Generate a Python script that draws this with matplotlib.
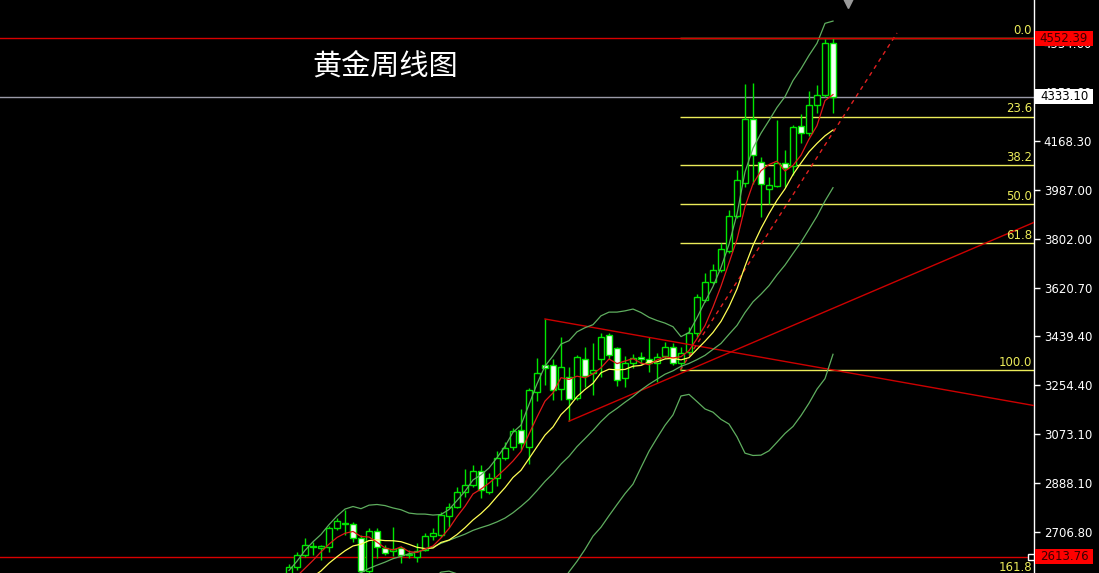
import numpy as np
import pandas as pd
import matplotlib
matplotlib.use("Agg")
import matplotlib.pyplot as plt
from matplotlib.patches import Rectangle
from matplotlib.transforms import blended_transform_factory

plt.rcParams['font.family'] = ['Noto Sans CJK SC', 'DejaVu Sans']

# Weekly closes before the first plotted bar (warm-up for the averages)
history_close = [2301, 2360, 2415, 2334, 2327, 2294, 2333, 2322, 2326, 2392,
                 2411, 2400, 2387, 2443, 2431, 2507, 2512, 2503, 2497]

# Weekly OHLC, gold
opens = [2500, 2576, 2621, 2656, 2646, 2651, 2722, 2738, 2737, 2684,
         2561, 2710, 2647, 2636, 2647, 2622, 2613, 2640, 2692, 2695,
         2765, 2800, 2858, 2882, 2936, 2856, 2910, 2984, 3023, 3088,
         3025, 3230, 3331, 3331, 3241, 3286, 3208, 3353, 3301, 3353,
         3443, 3394, 3282, 3338, 3361, 3353, 3338, 3365, 3398, 3338,
         3380, 3451, 3574, 3641, 3686, 3757, 3888, 4011, 4251, 4090,
         3989, 4000, 4086, 4075, 4224, 4198, 4303, 4340, 4535]
highs = [2586, 2632, 2685, 2670, 2658, 2729, 2759, 2790, 2744, 2695,
         2721, 2722, 2658, 2726, 2654, 2640, 2665, 2703, 2722, 2782,
         2817, 2875, 2942, 2957, 2956, 2927, 3008, 3045, 3096, 3166,
         3245, 3357, 3503, 3353, 3436, 3323, 3368, 3398, 3413, 3451,
         3451, 3398, 3365, 3372, 3380, 3436, 3376, 3417, 3413, 3398,
         3473, 3596, 3675, 3709, 3787, 3910, 4060, 4381, 4385, 4109,
         4034, 4247, 4135, 4228, 4269, 4355, 4378, 4550, 4552.39]
lows = [2485, 2565, 2613, 2621, 2602, 2632, 2714, 2695, 2669, 2540,
        2540, 2609, 2621, 2617, 2590, 2608, 2594, 2636, 2677, 2688,
        2725, 2797, 2838, 2875, 2834, 2849, 2879, 2976, 3013, 3013,
        2962, 3195, 3256, 3200, 3200, 3121, 3200, 3249, 3219, 3286,
        3353, 3253, 3249, 3320, 3335, 3305, 3268, 3357, 3331, 3312,
        3368, 3436, 3566, 3634, 3679, 3750, 3880, 3996, 4006, 3884,
        3933, 3996, 3996, 4041, 4161, 4187, 4273, 4333, 4273]
closes = [2577, 2621, 2658, 2650, 2656, 2721, 2747, 2736, 2684, 2561,
          2712, 2651, 2628, 2645, 2620, 2623, 2636, 2690, 2703, 2770,
          2800, 2858, 2883, 2934, 2862, 2910, 2984, 3021, 3084, 3039,
          3237, 3300, 3320, 3238, 3323, 3204, 3361, 3290, 3312, 3436,
          3368, 3275, 3338, 3357, 3353, 3338, 3361, 3398, 3338, 3376,
          3451, 3585, 3641, 3686, 3765, 3888, 4023, 4251, 4116, 4008,
          4004, 4086, 4067, 4221, 4198, 4303, 4340, 4535, 4333.10]

last_price = 4333.10
swing_high = 4552.39
support_level = 2613.76
fib_low = 3312.0
fib_ratios = [0.0, 23.6, 38.2, 50.0, 61.8, 100.0, 161.8]
fib_start = 48.9

tick_values = [2706.80, 2888.10, 3073.10, 3254.40, 3439.40, 3620.70,
               3802.00, 3987.00, 4168.30, 4351.60, 4534.60]

# Trendlines as (bar index, price) anchors
falling_line = [(32, 3503), (49, 3413)]
rising_line = [(35, 3121), (49, 3300)]
projection_line = [(48.9, 3312), (76, 4572)]

# ---------------------------------------------------------------------------
W, H = 1099, 573
fig = plt.figure(figsize=(W / 100, H / 100), dpi=100, facecolor='black')
ax = fig.add_axes([0, 0, 1034 / W, 1])
ax.set_facecolor('black')

x = np.arange(len(closes))
bar_px = 8.0
first_px = 289.0
x_left = -first_px / bar_px
x_right = (1034 - first_px) / bar_px
ax.set_xlim(x_left, x_right)
y_lo, y_hi = 2553.5, 4695.4
ax.set_ylim(y_lo, y_hi)
price_per_px = (y_hi - y_lo) / H

o = np.array(opens, float)
h = np.array(highs, float)
l = np.array(lows, float)
c = np.array(closes, float)

# Indicators: MA5 (red), MA10 (yellow), Bollinger(20, 2) in green
allc = pd.Series(history_close + closes, dtype=float)
xa = np.arange(-len(history_close), len(closes))
ma5 = allc.rolling(5).mean()
ma10 = allc.rolling(10).mean()
mid = allc.rolling(20).mean()
sd = allc.rolling(20).std(ddof=0)
upper = mid + 2 * sd
lower = mid - 2 * sd

band_col = '#5fae5f'
for s in (upper, mid, lower):
    ax.plot(xa, s, color=band_col, lw=0.9, zorder=6)
ax.plot(xa, ma10, color='#ffff55', lw=0.9, zorder=6)
ax.plot(xa, ma5, color='#e01818', lw=0.9, zorder=6)

# Candles
green = '#00e600'
up = c >= o
ax.vlines(x, l, h, color=green, lw=1.0, zorder=3)
body_bottom = np.minimum(o, c)
body_h = np.maximum(np.abs(c - o), 4.0)
face = np.where(up, 'black', '#f4fff4')
ax.bar(x, body_h, bottom=body_bottom, width=0.7, color=face,
       edgecolor=green, linewidth=1.0, zorder=4)

# Horizontal price lines
ax.axhline(swing_high, color='#d80000', lw=1.0, zorder=7)
ax.axhline(last_price, color='#9a9aa8', lw=1.0, zorder=2)
ax.axhline(support_level, color='#d80000', lw=1.0, zorder=2)

# Fibonacci levels
fib_col = '#ecec5a'
trans_lab = blended_transform_factory(ax.transAxes, ax.transData)
for r in fib_ratios:
    lvl = swing_high - r / 100.0 * (swing_high - fib_low)
    ax.hlines(lvl, fib_start, x_right, color=fib_col, lw=1.0, zorder=2)
    ax.text(0.998, lvl + 4, f'{r:.1f}', transform=trans_lab, ha='right',
            va='bottom', color=fib_col, fontsize=8.5, family='DejaVu Sans',
            zorder=8)


def ray(anchors, x_end):
    (x0, y0), (x1, y1) = anchors
    slope = (y1 - y0) / (x1 - x0)
    return [x0, x_end], [y0, y0 + slope * (x_end - x0)]


tl_col = '#cc0000'
for line in (falling_line, rising_line):
    xs, ys = ray(line, x_right)
    ax.plot(xs, ys, color=tl_col, lw=1.0, zorder=5)
(px0, py0), (px1, py1) = projection_line
ax.plot([px0, px1], [py0, py1], color='#e02020', lw=1.0,
        linestyle=(0, (3, 3)), zorder=5)

# Axis styling
for side in ('left', 'top', 'bottom'):
    ax.spines[side].set_visible(False)
ax.spines['right'].set_color('white')
ax.spines['right'].set_linewidth(1.0)
ax.set_xticks([])
ax.yaxis.tick_right()
ax.set_yticks(tick_values)
ax.set_yticklabels([f'{v:.2f}' for v in tick_values])
ax.tick_params(axis='y', colors='white', labelcolor='white', length=4,
               width=1, pad=3, labelsize=8.5)
for t in ax.get_yticklabels():
    t.set_family('DejaVu Sans')

# Price tags on the scale (boxes cover the scale labels beneath them)
tag_trans = blended_transform_factory(ax.transAxes, ax.transData)
box_w = 58 / 1034
box_h = 15 * price_per_px
for val, bg, fg in ((swing_high, '#ff0000', '#3a0000'),
                    (last_price, 'white', 'black'),
                    (support_level, '#ff0000', '#3a0000')):
    ax.add_patch(Rectangle((1.001, val - box_h / 2), box_w, box_h,
                           transform=tag_trans, fc=bg, ec='none',
                           zorder=19, clip_on=False))
    ax.text(1.001 + box_w / 2, val, f'{val:.2f}', transform=tag_trans,
            ha='center', va='center', fontsize=8.5, color=fg,
            family='DejaVu Sans', zorder=20, clip_on=False)

ax.plot([x_right - 0.35], [support_level], marker='s', ms=4, mfc='black',
        mec='white', mew=1, zorder=9, clip_on=False)
ax.plot([69.9], [0.995], marker='v', ms=7, color='#9a9a9a',
        transform=blended_transform_factory(ax.transData, ax.transAxes),
        clip_on=False, zorder=9)

fig.text(385 / W, 1 - 67 / H, '黄金周线图', color='white', fontsize=21,
         ha='center', va='center')

fig.savefig('out.png', dpi=100, facecolor='black')
